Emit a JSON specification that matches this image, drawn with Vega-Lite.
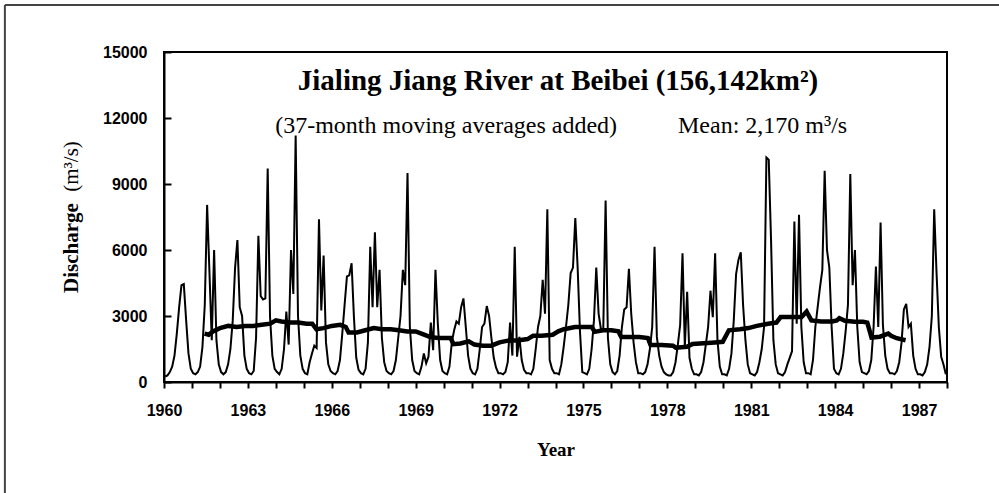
{
  "$schema": "https://vega.github.io/schema/vega-lite/v6.json",
  "width": 783,
  "height": 330,
  "autosize": {"type": "none"},
  "padding": {"left": 164, "top": 52, "right": 52, "bottom": 111},
  "background": "white",
  "view": {"stroke": "black", "strokeWidth": 2},
  "config": {
    "view": {"stroke": "black", "strokeWidth": 2},
    "axis": {"grid": false, "domainColor": "black", "domainWidth": 2, "tickColor": "black", "tickWidth": 2, "labelColor": "black", "titleColor": "black", "labelFont": "Liberation Sans", "labelFontSize": 16, "labelFontWeight": "bold", "titleFont": "Liberation Serif", "titleFontWeight": "bold"},
    "axisX": {"labelOverlap": false, "labelFlush": false, "labelPadding": 14, "tickSize": 6, "titleFontSize": 19, "titlePadding": 22},
    "axisY": {"labelOverlap": false, "labelPadding": 24, "tickSize": -7}
  },
  "datasets": {
    "monthly": [
      {"t":1960.042,"q":250},{"t":1960.125,"q":300},{"t":1960.208,"q":450},{"t":1960.292,"q":700},{"t":1960.375,"q":1200},{"t":1960.458,"q":2200},{"t":1960.542,"q":3400},{"t":1960.625,"q":4400},{"t":1960.708,"q":4450},{"t":1960.792,"q":2800},{"t":1960.875,"q":1300},{"t":1960.958,"q":600},
      {"t":1961.042,"q":400},{"t":1961.125,"q":350},{"t":1961.208,"q":450},{"t":1961.292,"q":700},{"t":1961.375,"q":1600},{"t":1961.458,"q":3500},{"t":1961.542,"q":8050},{"t":1961.625,"q":5000},{"t":1961.708,"q":1900},{"t":1961.792,"q":6000},{"t":1961.875,"q":1900},{"t":1961.958,"q":800},
      {"t":1962.042,"q":450},{"t":1962.125,"q":350},{"t":1962.208,"q":450},{"t":1962.292,"q":800},{"t":1962.375,"q":1500},{"t":1962.458,"q":2800},{"t":1962.542,"q":5200},{"t":1962.625,"q":6450},{"t":1962.708,"q":3400},{"t":1962.792,"q":3000},{"t":1962.875,"q":1200},{"t":1962.958,"q":600},
      {"t":1963.042,"q":400},{"t":1963.125,"q":350},{"t":1963.208,"q":500},{"t":1963.292,"q":2000},{"t":1963.375,"q":6650},{"t":1963.458,"q":3900},{"t":1963.542,"q":3750},{"t":1963.625,"q":3800},{"t":1963.708,"q":9700},{"t":1963.792,"q":2950},{"t":1963.875,"q":1200},{"t":1963.958,"q":600},
      {"t":1964.042,"q":450},{"t":1964.125,"q":350},{"t":1964.208,"q":600},{"t":1964.292,"q":1500},{"t":1964.375,"q":3200},{"t":1964.458,"q":1700},{"t":1964.542,"q":6000},{"t":1964.625,"q":4000},{"t":1964.708,"q":11200},{"t":1964.792,"q":3000},{"t":1964.875,"q":1200},{"t":1964.958,"q":600},
      {"t":1965.042,"q":400},{"t":1965.125,"q":350},{"t":1965.208,"q":900},{"t":1965.292,"q":1300},{"t":1965.375,"q":1650},{"t":1965.458,"q":1550},{"t":1965.542,"q":7400},{"t":1965.625,"q":3250},{"t":1965.708,"q":5750},{"t":1965.792,"q":1800},{"t":1965.875,"q":800},{"t":1965.958,"q":500},
      {"t":1966.042,"q":400},{"t":1966.125,"q":350},{"t":1966.208,"q":500},{"t":1966.292,"q":1000},{"t":1966.375,"q":2200},{"t":1966.458,"q":3500},{"t":1966.542,"q":4800},{"t":1966.625,"q":4850},{"t":1966.708,"q":5400},{"t":1966.792,"q":2950},{"t":1966.875,"q":1100},{"t":1966.958,"q":550},
      {"t":1967.042,"q":400},{"t":1967.125,"q":350},{"t":1967.208,"q":600},{"t":1967.292,"q":1800},{"t":1967.375,"q":6150},{"t":1967.458,"q":3400},{"t":1967.542,"q":6800},{"t":1967.625,"q":3400},{"t":1967.708,"q":5100},{"t":1967.792,"q":2000},{"t":1967.875,"q":900},{"t":1967.958,"q":500},
      {"t":1968.042,"q":400},{"t":1968.125,"q":350},{"t":1968.208,"q":500},{"t":1968.292,"q":1000},{"t":1968.375,"q":2000},{"t":1968.458,"q":3000},{"t":1968.542,"q":5100},{"t":1968.625,"q":4400},{"t":1968.708,"q":9500},{"t":1968.792,"q":2500},{"t":1968.875,"q":1000},{"t":1968.958,"q":500},
      {"t":1969.042,"q":400},{"t":1969.125,"q":350},{"t":1969.208,"q":700},{"t":1969.292,"q":1300},{"t":1969.375,"q":850},{"t":1969.458,"q":1150},{"t":1969.542,"q":2700},{"t":1969.625,"q":1450},{"t":1969.708,"q":5100},{"t":1969.792,"q":2650},{"t":1969.875,"q":1000},{"t":1969.958,"q":500},
      {"t":1970.042,"q":400},{"t":1970.125,"q":350},{"t":1970.208,"q":700},{"t":1970.292,"q":1800},{"t":1970.375,"q":2350},{"t":1970.458,"q":2750},{"t":1970.542,"q":2650},{"t":1970.625,"q":3400},{"t":1970.708,"q":3800},{"t":1970.792,"q":2500},{"t":1970.875,"q":1200},{"t":1970.958,"q":600},
      {"t":1971.042,"q":400},{"t":1971.125,"q":350},{"t":1971.208,"q":600},{"t":1971.292,"q":1500},{"t":1971.375,"q":2500},{"t":1971.458,"q":2650},{"t":1971.542,"q":3450},{"t":1971.625,"q":3000},{"t":1971.708,"q":2000},{"t":1971.792,"q":1100},{"t":1971.875,"q":650},{"t":1971.958,"q":400},
      {"t":1972.042,"q":400},{"t":1972.125,"q":350},{"t":1972.208,"q":450},{"t":1972.292,"q":900},{"t":1972.375,"q":2700},{"t":1972.458,"q":1200},{"t":1972.542,"q":6150},{"t":1972.625,"q":1150},{"t":1972.708,"q":2050},{"t":1972.792,"q":1000},{"t":1972.875,"q":550},{"t":1972.958,"q":400},
      {"t":1973.042,"q":400},{"t":1973.125,"q":350},{"t":1973.208,"q":600},{"t":1973.292,"q":1500},{"t":1973.375,"q":2500},{"t":1973.458,"q":3000},{"t":1973.542,"q":4650},{"t":1973.625,"q":3100},{"t":1973.708,"q":7850},{"t":1973.792,"q":1000},{"t":1973.875,"q":600},{"t":1973.958,"q":400},
      {"t":1974.042,"q":400},{"t":1974.125,"q":350},{"t":1974.208,"q":800},{"t":1974.292,"q":1600},{"t":1974.375,"q":2500},{"t":1974.458,"q":3500},{"t":1974.542,"q":4950},{"t":1974.625,"q":5200},{"t":1974.708,"q":7450},{"t":1974.792,"q":5200},{"t":1974.875,"q":2300},{"t":1974.958,"q":450},
      {"t":1975.042,"q":400},{"t":1975.125,"q":350},{"t":1975.208,"q":600},{"t":1975.292,"q":1500},{"t":1975.375,"q":2800},{"t":1975.458,"q":5200},{"t":1975.542,"q":3100},{"t":1975.625,"q":2400},{"t":1975.708,"q":2400},{"t":1975.792,"q":8250},{"t":1975.875,"q":2000},{"t":1975.958,"q":800},
      {"t":1976.042,"q":450},{"t":1976.125,"q":350},{"t":1976.208,"q":500},{"t":1976.292,"q":1200},{"t":1976.375,"q":2500},{"t":1976.458,"q":3300},{"t":1976.542,"q":3400},{"t":1976.625,"q":5150},{"t":1976.708,"q":3100},{"t":1976.792,"q":1800},{"t":1976.875,"q":900},{"t":1976.958,"q":400},
      {"t":1977.042,"q":400},{"t":1977.125,"q":350},{"t":1977.208,"q":450},{"t":1977.292,"q":800},{"t":1977.375,"q":1500},{"t":1977.458,"q":2500},{"t":1977.542,"q":6150},{"t":1977.625,"q":2050},{"t":1977.708,"q":1200},{"t":1977.792,"q":700},{"t":1977.875,"q":450},{"t":1977.958,"q":350},
      {"t":1978.042,"q":300},{"t":1978.125,"q":300},{"t":1978.208,"q":450},{"t":1978.292,"q":900},{"t":1978.375,"q":1700},{"t":1978.458,"q":2600},{"t":1978.542,"q":5850},{"t":1978.625,"q":1600},{"t":1978.708,"q":4100},{"t":1978.792,"q":1100},{"t":1978.875,"q":600},{"t":1978.958,"q":350},
      {"t":1979.042,"q":350},{"t":1979.125,"q":300},{"t":1979.208,"q":450},{"t":1979.292,"q":900},{"t":1979.375,"q":1700},{"t":1979.458,"q":2500},{"t":1979.542,"q":4150},{"t":1979.625,"q":2950},{"t":1979.708,"q":5850},{"t":1979.792,"q":1900},{"t":1979.875,"q":700},{"t":1979.958,"q":350},
      {"t":1980.042,"q":350},{"t":1980.125,"q":300},{"t":1980.208,"q":600},{"t":1980.292,"q":1300},{"t":1980.375,"q":2800},{"t":1980.458,"q":4900},{"t":1980.542,"q":5550},{"t":1980.625,"q":5900},{"t":1980.708,"q":3500},{"t":1980.792,"q":1900},{"t":1980.875,"q":800},{"t":1980.958,"q":400},
      {"t":1981.042,"q":350},{"t":1981.125,"q":300},{"t":1981.208,"q":450},{"t":1981.292,"q":900},{"t":1981.375,"q":1500},{"t":1981.458,"q":2500},{"t":1981.542,"q":10200},{"t":1981.625,"q":10100},{"t":1981.708,"q":6450},{"t":1981.792,"q":1900},{"t":1981.875,"q":800},{"t":1981.958,"q":400},
      {"t":1982.042,"q":350},{"t":1982.125,"q":300},{"t":1982.208,"q":450},{"t":1982.292,"q":800},{"t":1982.375,"q":1100},{"t":1982.458,"q":1400},{"t":1982.542,"q":7300},{"t":1982.625,"q":2650},{"t":1982.708,"q":7600},{"t":1982.792,"q":2500},{"t":1982.875,"q":900},{"t":1982.958,"q":400},
      {"t":1983.042,"q":400},{"t":1983.125,"q":350},{"t":1983.208,"q":1000},{"t":1983.292,"q":2500},{"t":1983.375,"q":3400},{"t":1983.458,"q":4300},{"t":1983.542,"q":5100},{"t":1983.625,"q":9600},{"t":1983.708,"q":6000},{"t":1983.792,"q":5200},{"t":1983.875,"q":2500},{"t":1983.958,"q":600},
      {"t":1984.042,"q":400},{"t":1984.125,"q":350},{"t":1984.208,"q":600},{"t":1984.292,"q":1300},{"t":1984.375,"q":2300},{"t":1984.458,"q":3500},{"t":1984.542,"q":9450},{"t":1984.625,"q":4400},{"t":1984.708,"q":6000},{"t":1984.792,"q":2500},{"t":1984.875,"q":900},{"t":1984.958,"q":450},
      {"t":1985.042,"q":400},{"t":1985.125,"q":350},{"t":1985.208,"q":500},{"t":1985.292,"q":1000},{"t":1985.375,"q":2500},{"t":1985.458,"q":5250},{"t":1985.542,"q":2500},{"t":1985.625,"q":7250},{"t":1985.708,"q":2600},{"t":1985.792,"q":1200},{"t":1985.875,"q":600},{"t":1985.958,"q":400},
      {"t":1986.042,"q":400},{"t":1986.125,"q":350},{"t":1986.208,"q":500},{"t":1986.292,"q":900},{"t":1986.375,"q":1800},{"t":1986.458,"q":3300},{"t":1986.542,"q":3550},{"t":1986.625,"q":2500},{"t":1986.708,"q":2650},{"t":1986.792,"q":1200},{"t":1986.875,"q":600},{"t":1986.958,"q":350},
      {"t":1987.042,"q":350},{"t":1987.125,"q":300},{"t":1987.208,"q":450},{"t":1987.292,"q":800},{"t":1987.375,"q":1600},{"t":1987.458,"q":3000},{"t":1987.542,"q":7850},{"t":1987.625,"q":5000},{"t":1987.708,"q":2500},{"t":1987.792,"q":1150},{"t":1987.875,"q":800},{"t":1987.958,"q":350}
    ],
    "ma": [
      {"t":1961.45,"q":2200},{"t":1961.6,"q":2150},{"t":1961.75,"q":2300},{"t":1962.0,"q":2450},{"t":1962.3,"q":2550},{"t":1962.6,"q":2500},{"t":1962.9,"q":2550},{"t":1963.2,"q":2550},{"t":1963.5,"q":2600},{"t":1963.8,"q":2650},{"t":1964.0,"q":2800},{"t":1964.2,"q":2750},{"t":1964.5,"q":2700},{"t":1964.8,"q":2700},{"t":1965.1,"q":2650},{"t":1965.3,"q":2650},{"t":1965.45,"q":2400},{"t":1965.7,"q":2450},{"t":1966.0,"q":2550},{"t":1966.3,"q":2600},{"t":1966.5,"q":2500},{"t":1966.6,"q":2250},{"t":1966.9,"q":2250},{"t":1967.2,"q":2350},{"t":1967.5,"q":2450},{"t":1967.8,"q":2400},{"t":1968.1,"q":2400},{"t":1968.4,"q":2350},{"t":1968.7,"q":2300},{"t":1969.0,"q":2300},{"t":1969.3,"q":2150},{"t":1969.5,"q":2050},{"t":1969.8,"q":2000},{"t":1970.1,"q":2000},{"t":1970.25,"q":2000},{"t":1970.35,"q":1720},{"t":1970.6,"q":1750},{"t":1970.9,"q":1850},{"t":1971.1,"q":1700},{"t":1971.4,"q":1650},{"t":1971.7,"q":1650},{"t":1972.0,"q":1800},{"t":1972.3,"q":1880},{"t":1972.7,"q":1900},{"t":1973.0,"q":1950},{"t":1973.2,"q":2100},{"t":1973.5,"q":2100},{"t":1973.9,"q":2150},{"t":1974.1,"q":2300},{"t":1974.3,"q":2400},{"t":1974.7,"q":2500},{"t":1975.0,"q":2500},{"t":1975.3,"q":2500},{"t":1975.4,"q":2280},{"t":1975.7,"q":2350},{"t":1976.0,"q":2350},{"t":1976.25,"q":2300},{"t":1976.35,"q":2050},{"t":1976.7,"q":2050},{"t":1977.0,"q":2050},{"t":1977.3,"q":2000},{"t":1977.4,"q":1680},{"t":1977.8,"q":1680},{"t":1978.2,"q":1650},{"t":1978.3,"q":1560},{"t":1978.7,"q":1600},{"t":1978.9,"q":1730},{"t":1979.3,"q":1760},{"t":1979.7,"q":1800},{"t":1979.98,"q":1830},{"t":1980.2,"q":2350},{"t":1980.6,"q":2400},{"t":1980.9,"q":2450},{"t":1981.2,"q":2550},{"t":1981.6,"q":2650},{"t":1981.9,"q":2700},{"t":1982.05,"q":2950},{"t":1982.5,"q":2950},{"t":1982.8,"q":2950},{"t":1982.98,"q":3200},{"t":1983.15,"q":2800},{"t":1983.5,"q":2750},{"t":1983.9,"q":2750},{"t":1984.06,"q":2800},{"t":1984.15,"q":2900},{"t":1984.35,"q":2780},{"t":1984.7,"q":2740},{"t":1985.0,"q":2740},{"t":1985.15,"q":2700},{"t":1985.3,"q":2020},{"t":1985.6,"q":2060},{"t":1985.9,"q":2200},{"t":1986.0,"q":2100},{"t":1986.2,"q":1990},{"t":1986.52,"q":1900}
    ]
  },
  "layer": [
    {
      "encoding": {
        "x": {
          "field": "t", "type": "quantitative", "title": "Year",
          "scale": {"domain": [1960, 1988], "nice": false, "zero": false},
          "axis": {
            "values": [1960,1961,1962,1963,1964,1965,1966,1967,1968,1969,1970,1971,1972,1973,1974,1975,1976,1977,1978,1979,1980,1981,1982,1983,1984,1985,1986,1987,1988],
            "labelExpr": "datum.value % 3 == 1 && datum.value < 1988 ? '' + datum.value : ''",
            "labelOverlap": false
          }
        },
        "y": {
          "field": "q", "type": "quantitative", "title": null,
          "scale": {"domain": [0, 15000], "nice": false},
          "axis": {"values": [0, 3000, 6000, 9000, 12000, 15000], "format": "d", "labelOverlap": false, "title": null}
        }
      },
      "layer": [
        {"data": {"name": "monthly"}, "mark": {"type": "line", "color": "black", "strokeWidth": 2}},
        {"data": {"name": "ma"}, "mark": {"type": "line", "color": "black", "strokeWidth": 4.5}}
      ]
    },
    {
      "data": {"values": [{}]},
      "encoding": {
        "x": {
          "datum": 1960, "type": "quantitative", "title": "Year",
          "axis": {
            "values": [1960,1961,1962,1963,1964,1965,1966,1967,1968,1969,1970,1971,1972,1973,1974,1975,1976,1977,1978,1979,1980,1981,1982,1983,1984,1985,1986,1987,1988],
            "labelExpr": "datum.value % 3 == 1 && datum.value < 1988 ? '' + datum.value : ''",
            "labelOverlap": false
          }
        },
        "y": {
          "datum": 0, "type": "quantitative", "title": null,
          "axis": {"values": [0, 3000, 6000, 9000, 12000, 15000], "format": "d", "labelOverlap": false, "title": null}
        }
      },
      "layer": [
        {
          "mark": {"type": "text", "text": "Jialing Jiang River at Beibei (156,142km²)", "font": "Liberation Serif", "fontSize": 29, "fontWeight": "bold", "align": "center", "baseline": "alphabetic", "color": "black"},
          "encoding": {"x": {"datum": 1974.09}, "y": {"datum": 13273}}
        },
        {
          "mark": {"type": "text", "text": "(37-month moving averages added)", "font": "Liberation Serif", "fontSize": 24, "align": "center", "baseline": "alphabetic", "color": "black"},
          "encoding": {"x": {"datum": 1970.09}, "y": {"datum": 11303}}
        },
        {
          "mark": {"type": "text", "text": "Mean: 2,170 m³/s", "font": "Liberation Serif", "fontSize": 24, "align": "left", "baseline": "alphabetic", "color": "black"},
          "encoding": {"x": {"datum": 1978.38}, "y": {"datum": 11303}}
        },
        {
          "mark": {"type": "text", "text": "Discharge", "font": "Liberation Serif", "fontSize": 21, "fontWeight": "bold", "angle": 270, "align": "center", "baseline": "middle", "color": "black"},
          "encoding": {"x": {"datum": 1956.71}, "y": {"datum": 6090}}
        },
        {
          "mark": {"type": "text", "text": "(m³/s)", "font": "Liberation Serif", "fontSize": 21, "angle": 270, "align": "center", "baseline": "middle", "color": "black"},
          "encoding": {"x": {"datum": 1956.71}, "y": {"datum": 9795}}
        },
        {
          "mark": {"type": "rule", "color": "#444444", "strokeWidth": 2},
          "encoding": {"x": {"datum": 1954.31}, "y": {"datum": 17136}, "y2": {"datum": -5045}}
        },
        {
          "mark": {"type": "rule", "color": "#444444", "strokeWidth": 2},
          "encoding": {"y": {"datum": 17136}, "x": {"datum": 1954.31}, "x2": {"datum": 1990}}
        }
      ]
    }
  ]
}
